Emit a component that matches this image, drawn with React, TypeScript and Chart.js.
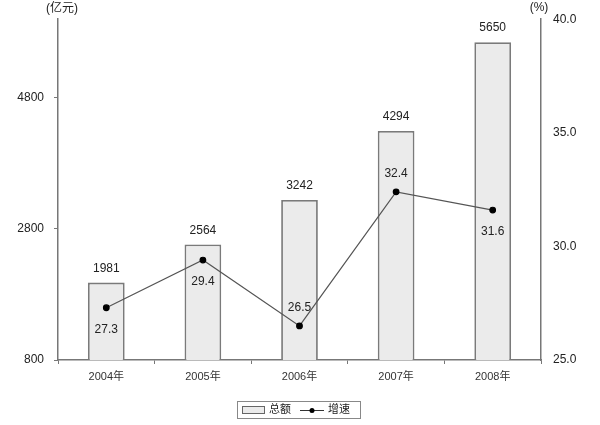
import React, { useEffect, useRef } from "react";
import { Chart, registerables } from "chart.js";

Chart.register(...registerables);

const categories = ["2004年", "2005年", "2006年", "2007年", "2008年"];
const totals = [1981, 2564, 3242, 4294, 5650];
const growth = [27.3, 29.4, 26.5, 32.4, 31.6];
const growthLabelSide = ["below", "below", "above", "above", "below"];
const leftTicks = [800, 2800, 4800];
const rightTicks = [25, 30, 35, 40];
const totalLabel = "总额";
const growthLabel = "增速";

const FONT = "'Liberation Sans', 'Noto Sans CJK SC', sans-serif";

const labelsPlugin = {
  id: "labelsPlugin",
  afterDatasetsDraw(chart: any) {
    const ctx = chart.ctx;
    ctx.save();
    ctx.font = `12px ${FONT}`;
    ctx.fillStyle = "#222";
    ctx.textAlign = "center";
    ctx.textBaseline = "middle";
    const barMeta = chart.getDatasetMeta(0);
    barMeta.data.forEach((el: any, i: number) => {
      ctx.fillText(String(totals[i]), el.x, el.y - 14);
    });
    const lineMeta = chart.getDatasetMeta(1);
    lineMeta.data.forEach((el: any, i: number) => {
      const dy = growthLabelSide[i] === "above" ? -18 : 22;
      ctx.fillText(growth[i].toFixed(1), el.x, el.y + dy);
    });
    // axis titles
    ctx.fillText("(亿元)", chart.scales.y.right + 4, 9);
    ctx.fillText("(%)", chart.scales.y1.left - 2, 8);

    // legend
    const lx = 237, ly = 401, lw = 123, lh = 17;
    ctx.strokeStyle = "#888";
    ctx.lineWidth = 1;
    ctx.strokeRect(lx + 0.5, ly + 0.5, lw, lh);
    ctx.fillStyle = "#ebebeb";
    ctx.fillRect(242, 406, 22, 7);
    ctx.strokeStyle = "#666";
    ctx.strokeRect(242.5, 406.5, 22, 7);
    ctx.fillStyle = "#222";
    ctx.textAlign = "left";
    ctx.font = `11px ${FONT}`;
    ctx.fillText(totalLabel, 269, 410);
    ctx.strokeStyle = "#333";
    ctx.beginPath();
    ctx.moveTo(300, 410.5);
    ctx.lineTo(324, 410.5);
    ctx.stroke();
    ctx.beginPath();
    ctx.arc(312, 410.5, 2.5, 0, Math.PI * 2);
    ctx.fillStyle = "#000";
    ctx.fill();
    ctx.fillStyle = "#222";
    ctx.fillText(growthLabel, 328, 410);
    ctx.restore();
  },
};

export default function App() {
  const ref = useRef<HTMLCanvasElement>(null);
  useEffect(() => {
    document.body.style.margin = "0";
    const chart = new Chart(ref.current!, {
      type: "bar",
      data: {
        labels: categories,
        datasets: [
          {
            type: "bar",
            label: totalLabel,
            data: totals,
            backgroundColor: "#ebebeb",
            borderColor: "#7a7a7a",
            borderWidth: 1.8,
            barPercentage: 0.38,
            categoryPercentage: 1,
            yAxisID: "y",
            order: 2,
          },
          {
            type: "line",
            label: growthLabel,
            data: growth,
            borderColor: "#555",
            borderWidth: 1.2,
            pointRadius: 2.8,
            pointBackgroundColor: "#000",
            pointBorderColor: "#000",
            yAxisID: "y1",
            order: 1,
          } as any,
        ],
      },
      options: {
        animation: false,
        responsive: false,
        maintainAspectRatio: false,
        layout: { padding: { top: 18, left: 0, right: 0, bottom: 0 } },
        plugins: { legend: { display: false }, tooltip: { enabled: false } },
        scales: {
          x: {
            offset: true,
            grid: {
              offset: true,
              drawOnChartArea: false,
              tickLength: 4,
              color: "#777",
            },
            border: { color: "#777", width: 1.5 },
            ticks: { color: "#333", font: { size: 11, family: FONT }, padding: 6 },
            afterFit(scale: any) {
              scale.height = 65;
            },
          },
          y: {
            position: "left",
            min: 800,
            max: 6000,
            afterBuildTicks(scale: any) {
              scale.ticks = leftTicks.map((v) => ({ value: v }));
            },
            grid: { drawOnChartArea: false, tickLength: 4, color: "#777" },
            border: { color: "#777", width: 1.5 },
            ticks: {
              color: "#222",
              font: { size: 12, family: FONT },
              padding: 10,
              callback: (v: any) => String(v),
            },
            afterFit(scale: any) {
              scale.width = 58;
            },
          },
          y1: {
            position: "right",
            min: 25,
            max: 40,
            afterBuildTicks(scale: any) {
              scale.ticks = rightTicks.map((v) => ({ value: v }));
            },
            grid: { drawOnChartArea: false, drawTicks: false, color: "#777" },
            border: { color: "#777", width: 1.5 },
            ticks: {
              color: "#222",
              font: { size: 12, family: FONT },
              padding: 12,
              callback: (v: any) => Number(v).toFixed(1),
            },
            afterFit(scale: any) {
              scale.width = 59;
            },
          },
        },
      },
      plugins: [labelsPlugin],
    });
    return () => chart.destroy();
  }, []);
  return (
    <div style={{ position: "fixed", left: 0, top: 0, width: 600, height: 425, background: "#fff" }}>
      <canvas ref={ref} width={600} height={425} />
    </div>
  );
}
